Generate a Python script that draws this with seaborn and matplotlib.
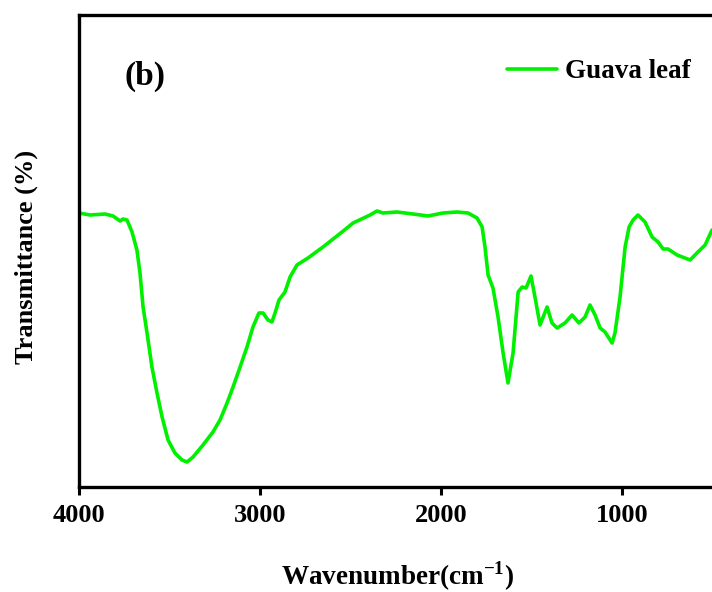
import matplotlib
matplotlib.use("Agg")
import matplotlib.pyplot as plt
import seaborn as sns
import pandas as pd

wavenumber = [4000, 3939, 3856, 3812, 3773, 3757, 3735, 3707, 3680, 3663, 3646, 3624, 3597,
              3569, 3541, 3508, 3470, 3431, 3403, 3370, 3315, 3260, 3221, 3182, 3149, 3110,
              3072, 3039, 3006, 2983, 2956, 2934, 2917, 2895, 2862, 2834, 2796, 2735, 2652,
              2547, 2486, 2392, 2354, 2320, 2243, 2155, 2072, 1989, 1912, 1851, 1801, 1773,
              1757, 1740, 1713, 1685, 1657, 1630, 1602, 1574, 1552, 1530, 1503, 1481, 1453,
              1414, 1387, 1359, 1315, 1276, 1238, 1204, 1177, 1149, 1121, 1094, 1055, 1039,
              1011, 983, 961, 939, 912, 873, 834, 801, 773, 746, 696, 624, 586, 541, 503]
transmittance = [277, 275, 276, 274, 269, 271, 270, 258, 240, 217, 183, 157, 123,
                 97, 73, 50, 37, 30, 28, 33, 45, 58, 70, 87, 103, 123,
                 143, 163, 177, 177, 170, 168, 177, 190, 198, 213, 225, 232, 243,
                 258, 267, 275, 279, 277, 278, 276, 274, 277, 278, 277, 272, 263,
                 243, 215, 202, 173, 137, 107, 137, 198, 203, 202, 214, 193, 165,
                 183, 167, 162, 167, 175, 167, 173, 185, 175, 162, 158, 147, 157,
                 193, 243, 263, 270, 275, 268, 253, 248, 241, 241, 235, 230, 237, 245, 260]

series_label = "Guava leaf"
x_ticks = [4000, 3000, 2000, 1000]
x_label = "Wavenumber(cm$^{\\mathbf{-1}}$)"
y_label = "Transmittance (%)"
panel_label = "(b)"

sns.set_style("ticks")
plt.rcParams['font.family'] = ['Liberation Serif', 'DejaVu Serif']
plt.rcParams['mathtext.fontset'] = 'custom'
plt.rcParams['mathtext.rm'] = 'Liberation Serif:bold'
plt.rcParams['mathtext.bf'] = 'Liberation Serif:bold'
plt.rcParams['text.color'] = 'black'
plt.rcParams['axes.labelcolor'] = 'black'
plt.rcParams['xtick.color'] = 'black'

df = pd.DataFrame({"wn": wavenumber, "T": transmittance})

W, H = 712, 592
fig = plt.figure(figsize=(W / 100, H / 100), dpi=100)
ax_left, ax_bottom, ax_top = 79, 487, 15
ax = fig.add_axes([ax_left / W, 1 - ax_bottom / H, 1 - ax_left / W, (ax_bottom - ax_top) / H])
sns.lineplot(data=df, x="wn", y="T", ax=ax, color="#00f000", linewidth=2.6,
             label=series_label, sort=False)
for ln in ax.get_lines():
    ln.set_solid_joinstyle('round')
    ln.set_solid_capstyle('round')

ax.set_xlim(4000, 503)
ax.set_ylim(3, 475)
ax.set_xticks(x_ticks)
ax.set_xticklabels([str(t) for t in x_ticks], fontsize=19, fontweight='bold')
ax.set_yticks([])
ax.tick_params(axis='x', direction='out', length=6, width=2.2, pad=6)
for side in ['left', 'bottom', 'top']:
    ax.spines[side].set_linewidth(2.4)
    ax.spines[side].set_color('black')
ax.spines['right'].set_visible(False)

ax.set_xlabel(x_label, fontsize=19.5, fontweight='bold')
ax.xaxis.set_label_coords((398 - ax_left) / (W - ax_left), -(559 - ax_bottom) / (ax_bottom - ax_top))
ax.set_ylabel(y_label, fontsize=19, fontweight='bold')
ax.yaxis.set_label_coords(-(79 - 38) / (W - ax_left), (ax_bottom - 257) / (ax_bottom - ax_top))

ax.text((125 - ax_left) / (W - ax_left), (ax_bottom - 76) / (ax_bottom - ax_top), panel_label,
        transform=ax.transAxes, fontsize=24, fontweight='bold', ha='left', va='center')

leg = ax.legend(loc='center left', bbox_to_anchor=(507 / W, 1 - 72 / H),
                bbox_transform=fig.transFigure, frameon=False,
                prop={'weight': 'bold', 'size': 19.5}, handlelength=1.85,
                handletextpad=0.3, borderpad=0, borderaxespad=0)

fig.savefig("out.png", dpi=100)
